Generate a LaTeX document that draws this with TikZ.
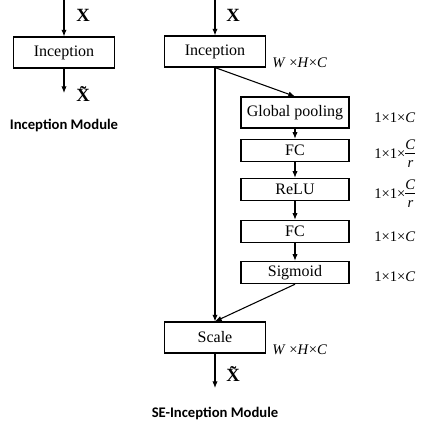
\documentclass[tikz,border=0pt]{standalone}
\usepackage{fontspec}
\setmainfont{Liberation Serif}
\newfontfamily\capfont{Carlito}
\usetikzlibrary{arrows.meta}
\newcommand{\crfrac}{\begin{tabular}[c]{@{}c@{}}\textit{C}\\[-1pt]\hline\noalign{\vskip1pt}\textit{r}\end{tabular}}
\begin{document}
\begin{tikzpicture}[x=0.75pt, y=0.75pt, >={Latex[length=5pt,width=4pt]},
  blk/.style={draw, line width=1.1pt, minimum width=75.5pt, minimum height=23pt, inner sep=0pt, font=\fontsize{12}{14}\selectfont},
  sub/.style={blk, minimum width=81pt, minimum height=16.5pt},
  dim/.style={anchor=west, inner sep=0pt, font=\fontsize{11}{13}\selectfont},
  sym/.style={inner sep=0pt, font=\fontsize{14}{16}\selectfont\bfseries},
  modtitle/.style={font=\fontsize{11}{13}\selectfont\capfont\bfseries},
  conn/.style={->, line width=0.8pt}]
  \useasboundingbox (0,0) rectangle (422,-423);

  % plain module
  \coordinate (inA) at (64,0);
  \node[blk] (incA) at (64,-52.5) {Inception};
  \coordinate (outA) at (64,-93);
  \draw[conn] (inA) -- (incA);
  \draw[conn] (incA) -- (outA);
  \node[sym] (xA) at (83,-15) {X};
  \node[sym] (xtA) at (83,-94) {\~{X}};
  \node[modtitle] (capA) at (64,-126) {Inception Module};

  % SE module
  \coordinate (inB) at (215,0);
  \node[blk] (incB) at (215,-51.5) {Inception};
  \node[sub, minimum height=23pt] (gp) at (295,-112.5) {Global pooling};
  \node[sub] (fc1) at (295,-150.5) {FC};
  \node[sub] (relu) at (295,-189.5) {ReLU};
  \node[sub] (fc2) at (295,-231.5) {FC};
  \node[sub] (sig) at (295,-272.5) {Sigmoid};
  \node[blk] (scale) at (215,-337.5) {Scale};
  \coordinate (outB) at (215,-388);

  \draw[conn] (inB) -- (incB);
  \draw[conn] (incB.south) -- (gp.north);
  \draw[conn] (gp) -- (fc1);
  \draw[conn] (fc1) -- (relu);
  \draw[conn] (relu) -- (fc2);
  \draw[conn] (fc2) -- (sig);
  \draw[conn] (incB.south) -- (scale.north);
  \draw[conn] (sig.south) -- (scale.north);
  \draw[conn] (scale) -- (outB);

  \node[sym] (xB) at (233,-15) {X};
  \node[sym] (xtB) at (233,-374) {\~{X}};
  \node[dim] (dIn) at (272,-63) {\textit{W} ×\textit{H}×\textit{C}};
  \node[dim] (dGp) at (374,-118) {1×1×\textit{C}};
  \node[dim] (dFc1) at (374,-155) {1×1×\crfrac};
  \node[dim] (dRelu) at (374,-195) {1×1×\crfrac};
  \node[dim] (dFc2) at (374,-237) {1×1×\textit{C}};
  \node[dim] (dSig) at (374,-277) {1×1×\textit{C}};
  \node[dim] (dSc) at (272,-350) {\textit{W} ×\textit{H}×\textit{C}};
  \node[modtitle] (capB) at (215,-413) {SE-Inception Module};
\end{tikzpicture}
\end{document}
